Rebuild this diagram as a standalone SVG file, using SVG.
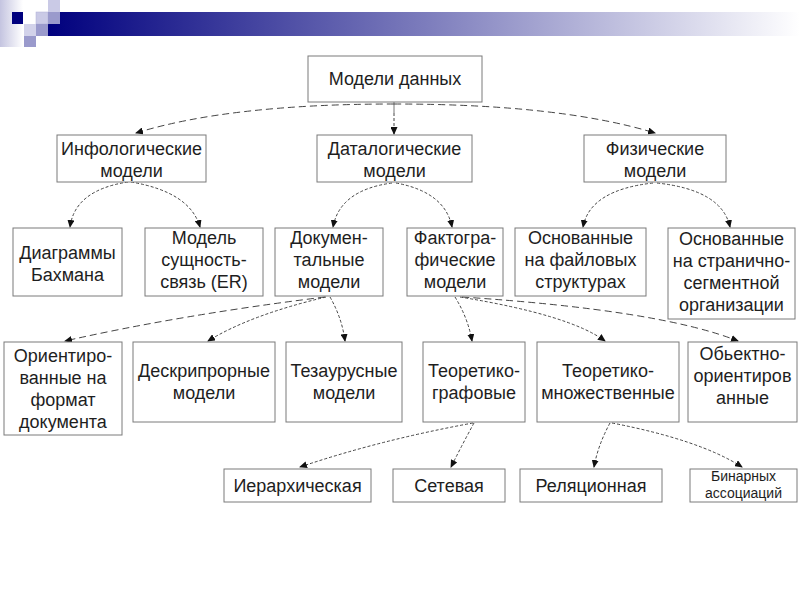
<svg xmlns="http://www.w3.org/2000/svg" width="800" height="600" viewBox="0 0 800 600">
<style>
.box{fill:#fff;stroke:#7a7a7a;stroke-width:1}
.t{font-family:"Liberation Sans",Arial,sans-serif;font-size:18px;fill:#1e1e1e;text-anchor:middle}
.s{font-size:14px}
.c{fill:none;stroke:#444;stroke-width:1;stroke-dasharray:3,2}
.cl{fill:none;stroke:#444;stroke-width:1;stroke-dasharray:7,4}
</style>
<defs>
<linearGradient id="bar" x1="0" y1="0" x2="1" y2="0">
<stop offset="0" stop-color="#00007e"/>
<stop offset="0.5" stop-color="#7c7cbc"/>
<stop offset="1" stop-color="#ffffff"/>
</linearGradient>
<linearGradient id="strip" x1="0" y1="0" x2="1" y2="0">
<stop offset="0" stop-color="#c4c4e0"/>
<stop offset="1" stop-color="#ffffff"/>
</linearGradient>
<marker id="ah" markerWidth="8" markerHeight="7" refX="7" refY="3.5" orient="auto" markerUnits="userSpaceOnUse">
<path d="M0,0 L8,3.5 L0,7 z" fill="#111"/>
</marker>
</defs>
<rect width="800" height="600" fill="#fff"/>
<g id="header">
<rect x="0" y="0" width="23" height="47" fill="url(#strip)"/>
<rect x="48" y="12" width="752" height="24" fill="url(#bar)"/>
<rect x="12" y="12" width="11" height="12" fill="#00007e"/>
<rect x="48" y="0" width="12" height="12" fill="#cacae6"/>
<rect x="36" y="12" width="12" height="12" fill="#cacae6" stroke="#b0b0d8" stroke-width="0.5"/>
<rect x="48" y="12" width="12" height="12" fill="#9a9acc"/>
<rect x="24" y="24" width="12" height="12" fill="#d2d2ea"/>
<rect x="36" y="24" width="12" height="12" fill="#9a9acc"/>
<rect x="24" y="36" width="12" height="11" fill="#9a9acc"/>
</g>
<g id="connectors">
<line x1="394" y1="102" x2="394" y2="113" stroke="#777" stroke-width="1"/>
<path class="cl" d="M394,104 Q230,104 136,133" marker-end="url(#ah)"/>
<path class="cl" d="M394,104 Q560,104 655,133" marker-end="url(#ah)"/>
<path class="c" d="M394,113 L394,134" stroke="#bbb" marker-end="url(#ah)"/>
<path class="c" d="M128,182 Q75,190 70,227" marker-end="url(#ah)"/>
<path class="c" d="M131,182 Q190,192 200,227" marker-end="url(#ah)"/>
<path class="c" d="M392,183 Q340,190 333,227" marker-end="url(#ah)"/>
<path class="c" d="M396,183 Q445,192 452,227" marker-end="url(#ah)"/>
<path class="c" d="M653,183 Q590,190 583,227" marker-end="url(#ah)"/>
<path class="c" d="M657,183 Q722,190 730,227" marker-end="url(#ah)"/>
<path class="cl" d="M325,297 Q180,315 65,341" marker-end="url(#ah)"/>
<path class="c" d="M326,297 Q250,315 208,341" marker-end="url(#ah)"/>
<path class="c" d="M330,297 Q342,318 345,341" marker-end="url(#ah)"/>
<path class="c" d="M455,297 Q468,318 472,341" marker-end="url(#ah)"/>
<path class="c" d="M460,297 Q570,315 605,341" marker-end="url(#ah)"/>
<path class="cl" d="M462,297 Q660,310 738,341" marker-end="url(#ah)"/>
<path class="c" d="M473,423 Q380,440 300,467" marker-end="url(#ah)"/>
<path class="c" d="M474,423 Q462,445 451,467" marker-end="url(#ah)"/>
<path class="c" d="M610,423 Q598,445 594,467" marker-end="url(#ah)"/>
<path class="c" d="M612,423 Q700,440 742,467" marker-end="url(#ah)"/>
</g>
<g id="n0"><rect class="box" x="308" y="56" width="174" height="46"/><text class="t" x="395" y="85">Модели данных</text></g>
<g id="n1"><rect class="box" x="57" y="135" width="149" height="47"/><text class="t" x="131.5" y="155">Инфологические</text><text class="t" x="131.5" y="177">модели</text></g>
<g id="n2"><rect class="box" x="317" y="135" width="155" height="47"/><text class="t" x="394.5" y="155">Даталогические</text><text class="t" x="394.5" y="177">модели</text></g>
<g id="n3"><rect class="box" x="584" y="135" width="142" height="47"/><text class="t" x="655" y="155">Физические</text><text class="t" x="655" y="177">модели</text></g>
<g id="n4"><rect class="box" x="13" y="228" width="109" height="68"/><text class="t" x="67.5" y="259">Диаграммы</text><text class="t" x="67.5" y="281">Бахмана</text></g>
<g id="n5"><rect class="box" x="145" y="228" width="118" height="68"/><text class="t" x="204" y="244">Модель</text><text class="t" x="204" y="266">сущность-</text><text class="t" x="204" y="288">связь (ER)</text></g>
<g id="n6"><rect class="box" x="275" y="228" width="108" height="68"/><text class="t" x="329" y="244">Докумен-</text><text class="t" x="329" y="266">тальные</text><text class="t" x="329" y="288">модели</text></g>
<g id="n7"><rect class="box" x="407" y="228" width="96" height="68"/><text class="t" x="455" y="244">Фактогра-</text><text class="t" x="455" y="266">фические</text><text class="t" x="455" y="288">модели</text></g>
<g id="n8"><rect class="box" x="515" y="228" width="131" height="68"/><text class="t" x="580.5" y="244">Основанные</text><text class="t" x="580.5" y="266">на файловых</text><text class="t" x="580.5" y="288">структурах</text></g>
<g id="n9"><rect class="box" x="668" y="228" width="127" height="91"/><text class="t" x="731.5" y="245">Основанные</text><text class="t" x="731.5" y="267">на странично-</text><text class="t" x="731.5" y="289">сегментной</text><text class="t" x="731.5" y="311">организации</text></g>
<g id="n10"><rect class="box" x="4" y="342" width="118" height="93"/><text class="t" x="63" y="362">Ориентиро-</text><text class="t" x="63" y="384">ванные на</text><text class="t" x="63" y="406">формат</text><text class="t" x="63" y="428">документа</text></g>
<g id="n11"><rect class="box" x="133" y="342" width="142" height="80"/><text class="t" x="204" y="377">Дескрипрорные</text><text class="t" x="204" y="399">модели</text></g>
<g id="n12"><rect class="box" x="286" y="342" width="116" height="80"/><text class="t" x="344" y="377">Тезаурусные</text><text class="t" x="344" y="399">модели</text></g>
<g id="n13"><rect class="box" x="423" y="342" width="102" height="80"/><text class="t" x="474" y="377">Теоретико-</text><text class="t" x="474" y="399">графовые</text></g>
<g id="n14"><rect class="box" x="537" y="342" width="142" height="80"/><text class="t" x="608" y="377">Теоретико-</text><text class="t" x="608" y="399">множественные</text></g>
<g id="n15"><rect class="box" x="688" y="342" width="109" height="80"/><text class="t" x="742.5" y="360">Обьектно-</text><text class="t" x="742.5" y="382">ориентиров</text><text class="t" x="742.5" y="404">анные</text></g>
<g id="n16"><rect class="box" x="224" y="469" width="147" height="33"/><text class="t" x="297.5" y="492">Иерархическая</text></g>
<g id="n17"><rect class="box" x="393" y="469" width="112" height="33"/><text class="t" x="449" y="492">Сетевая</text></g>
<g id="n18"><rect class="box" x="520" y="469" width="142" height="33"/><text class="t" x="591" y="492">Реляционная</text></g>
<g id="n19"><rect class="box" x="690" y="469" width="107" height="33"/><text class="t s" x="743.5" y="481">Бинарных</text><text class="t s" x="743.5" y="498">ассоциаций</text></g>
</svg>
